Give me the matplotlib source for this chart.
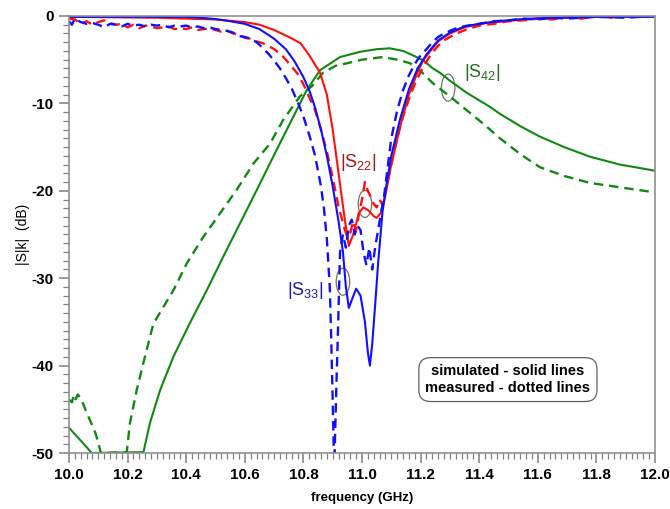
import numpy as np
import matplotlib
matplotlib.use("Agg")
import matplotlib.pyplot as plt
from matplotlib.patches import Ellipse
from matplotlib.ticker import MultipleLocator, FormatStrFormatter

plt.rcParams['font.family'] = ['Liberation Sans', 'DejaVu Sans']
plt.rcParams['mathtext.default'] = 'regular'
plt.rcParams['axes.unicode_minus'] = False

# |S22| simulated / measured
s22_sim_f = [10.0, 10.3, 10.5, 10.6, 10.65, 10.7, 10.75, 10.79, 10.82, 10.857, 10.88, 10.9,
             10.92, 10.94, 10.955, 10.97, 10.99, 11.005, 11.02, 11.04, 11.05, 11.065, 11.08,
             11.1, 11.13, 11.16, 11.19, 11.21, 11.26, 11.3, 11.35, 11.4, 11.46, 11.55, 11.65,
             11.8, 12.0]
s22_sim_db = [-0.1, -0.2, -0.4, -0.7, -1.0, -1.6, -2.4, -3.1, -4.5, -6.5, -9.0, -13.0,
              -18.0, -23.0, -26.3, -25.0, -22.5, -21.9, -22.2, -22.9, -23.1, -22.5, -20.5,
              -17.0, -12.7, -9.0, -6.4, -5.0, -2.9, -2.0, -1.3, -0.9, -0.7, -0.4, -0.25,
              -0.1, 0.0]

s22_meas_f = [10.0, 10.02, 10.04, 10.06, 10.08, 10.1, 10.12, 10.14, 10.16, 10.18, 10.2, 10.22,
              10.24, 10.26, 10.28, 10.3, 10.32, 10.34, 10.36, 10.38, 10.4, 10.42, 10.44, 10.46,
              10.48, 10.5, 10.52, 10.54, 10.56, 10.58, 10.6, 10.62, 10.64, 10.66, 10.68, 10.7,
              10.72, 10.74, 10.76, 10.78, 10.8, 10.82, 10.84, 10.86, 10.88, 10.9, 10.92, 10.94,
              10.95, 10.96, 10.97, 10.98, 10.99, 11.0, 11.01, 11.02, 11.03, 11.04, 11.05, 11.06,
              11.07, 11.08, 11.1, 11.12, 11.14, 11.16, 11.18, 11.2, 11.22, 11.24, 11.26, 11.28,
              11.3, 11.33, 11.36, 11.4, 11.45, 11.5, 11.55, 11.6, 11.65, 11.7, 11.75, 11.8,
              11.85, 11.9, 11.95, 12.0]
s22_meas_db = [-0.3, -0.4, -0.9, -0.6, -1.0, -0.7, -0.5, -0.8, -1.0, -0.9, -1.3, -1.0,
               -1.4, -1.1, -1.2, -1.4, -1.3, -1.2, -1.5, -1.4, -1.5, -1.3, -1.6, -1.5,
               -1.4, -1.6, -1.8, -1.7, -2.0, -2.1, -2.5, -2.6, -2.9, -3.1, -3.4, -3.8,
               -4.3, -5.0, -5.8, -6.6, -7.8, -9.3, -10.8, -13.0, -15.5, -18.5, -21.8, -24.3,
               -25.3, -24.8, -23.5, -24.5, -22.5, -21.0, -19.0, -20.0, -20.7, -21.5, -21.9, -21.0,
               -21.6, -20.0, -17.0, -14.0, -11.5, -9.5, -7.8, -6.4, -5.2, -4.2, -3.4, -2.8,
               -2.4, -1.9, -1.5, -1.1, -0.9, -0.6, -0.5, -0.3, -0.4, -0.1, -0.3, 0.0,
               -0.2, 0.1, -0.1, 0.3]

# |S33| simulated / measured
s33_sim_f = [10.0, 10.2, 10.4, 10.45, 10.5, 10.55, 10.6, 10.65, 10.7, 10.74, 10.77, 10.8,
             10.82, 10.84, 10.86, 10.88, 10.9, 10.92, 10.935, 10.945, 10.955, 10.965, 10.98,
             10.995, 11.01, 11.02, 11.027, 11.035, 11.045, 11.055, 11.07, 11.085, 11.1, 11.13,
             11.16, 11.19, 11.22, 11.26, 11.3, 11.35, 11.4, 11.46, 11.55, 11.65, 11.8, 12.0]
s33_sim_db = [-0.1, -0.1, -0.1, -0.2, -0.35, -0.6, -0.9, -1.5, -2.6, -3.8, -5.2, -7.0,
              -8.5, -10.5, -13.0, -16.0, -19.5, -23.5, -27.0, -31.0, -33.4, -32.5, -31.2,
              -32.0, -35.0, -38.5, -40.0, -37.5, -33.0, -28.3, -22.4, -19.0, -16.0, -11.8,
              -8.4, -6.0, -4.4, -2.8, -1.9, -1.2, -0.9, -0.6, -0.35, -0.2, -0.1, -0.1]

s33_meas_f = [10.0, 10.01, 10.02, 10.04, 10.06, 10.08, 10.1, 10.12, 10.14, 10.16, 10.18, 10.2,
              10.22, 10.24, 10.26, 10.28, 10.3, 10.32, 10.34, 10.36, 10.38, 10.4, 10.42, 10.44,
              10.46, 10.48, 10.5, 10.52, 10.54, 10.56, 10.58, 10.6, 10.62, 10.64, 10.66, 10.68,
              10.7, 10.72, 10.74, 10.76, 10.78, 10.8, 10.82, 10.84, 10.86, 10.87, 10.88, 10.89,
              10.895, 10.9, 10.905, 10.912, 10.918, 10.925, 10.935, 10.945, 10.955, 10.965, 10.975,
              10.985, 10.995, 11.005, 11.015, 11.025, 11.035, 11.045, 11.055, 11.065, 11.075,
              11.085, 11.1, 11.12, 11.14, 11.16, 11.18, 11.2, 11.22, 11.24, 11.26, 11.28, 11.3,
              11.33, 11.36, 11.4, 11.45, 11.5, 11.55, 11.6, 11.65, 11.7, 11.8, 11.9, 12.0]
s33_meas_db = [-0.6, -1.0, -0.3, -0.7, -0.9, -0.8, -1.0, -1.3, -0.9, -1.0, -1.2, -0.9,
               -1.1, -1.0, -1.2, -1.0, -1.1, -1.0, -1.3, -1.1, -1.2, -1.1, -1.3, -1.2,
               -1.4, -1.3, -1.5, -1.6, -1.7, -1.9, -2.3, -2.4, -2.6, -3.0, -3.6, -4.3,
               -5.1, -6.0, -7.1, -8.3, -9.8, -11.5, -13.6, -16.0, -19.5, -22.0, -25.5, -31.0,
               -37.0, -44.0, -52.0, -43.0, -36.0, -27.0, -25.0, -26.5, -24.0, -23.3, -25.0,
               -24.0, -24.5, -27.0, -28.5, -26.5, -29.0, -26.4, -24.5, -22.5, -20.7,
               -18.0, -14.0, -10.8, -8.5, -6.8, -5.5, -4.5, -3.8, -3.0, -2.4, -2.0, -1.7,
               -1.3, -1.1, -0.9, -0.6, -0.5, -0.3, -0.4, -0.2, -0.3, -0.1, -0.2, 0.0]

# |S42| simulated / measured
s42_sim_f = [10.0, 10.078, 10.254, 10.276, 10.311, 10.356, 10.413, 10.47, 10.527, 10.584,
             10.641, 10.697, 10.754, 10.811, 10.857, 10.925, 10.993, 11.05, 11.095, 11.14,
             11.174, 11.21, 11.242, 11.266, 11.3, 11.358, 11.437, 11.471, 11.54, 11.607, 11.69,
             11.778, 11.88, 12.0]
s42_sim_db = [-47.1, -50.0, -49.9, -46.6, -42.8, -39.0, -35.1, -31.4, -27.5, -23.7,
              -19.9, -16.1, -12.3, -8.5, -6.2, -4.7, -4.1, -3.8, -3.7, -4.0,
              -4.5, -5.1, -6.0, -6.5, -7.4, -8.8, -10.4, -11.2, -12.6, -13.8, -15.0,
              -16.1, -17.0, -17.7]

s42_meas_f = [10.0, 10.01, 10.015, 10.02, 10.03, 10.04, 10.05, 10.06, 10.075, 10.09, 10.1,
              10.106, 10.11, 10.197, 10.208, 10.231, 10.259, 10.288, 10.322, 10.356, 10.402,
              10.458, 10.515, 10.572, 10.629, 10.686, 10.731, 10.788, 10.83, 10.867, 10.91,
              10.95, 11.0, 11.07, 11.12, 11.164, 11.2, 11.242, 11.3, 11.358, 11.42, 11.471,
              11.54, 11.607, 11.69, 11.778, 11.88, 11.983, 12.0]
s42_meas_db = [-43.9, -44.2, -43.5, -44.0, -43.3, -43.8, -44.5, -45.4, -46.5, -47.7, -48.8,
               -49.7, -50.0, -49.9, -46.6, -42.8, -39.0, -35.2, -33.3, -31.4, -28.3,
               -25.3, -22.6, -19.9, -16.9, -14.6, -11.9, -9.2, -8.0, -6.5, -5.7,
               -5.4, -5.0, -4.7, -5.0, -5.4, -6.3, -7.7, -9.2, -10.8, -12.5, -14.0,
               -15.8, -17.3, -18.3, -19.1, -19.6, -20.1, -20.2]

red = '#ff1010'
blue = '#1010ff'
green = '#118811'
dash = (0, (4, 2.5))

fig = plt.figure(figsize=(6.7, 5.09), dpi=100)
ax = fig.add_axes([0.103, 0.110, 0.8746, 0.8586])

ax.plot(s42_meas_f, s42_meas_db, color=green, lw=1.7, ls=dash)
ax.plot(s42_sim_f, s42_sim_db, color=green, lw=1.5)
ax.plot(s22_meas_f, s22_meas_db, color=red, lw=1.7, ls=dash)
ax.plot(s22_sim_f, s22_sim_db, color=red, lw=1.5)
ax.plot(s33_meas_f, s33_meas_db, color=blue, lw=1.7, ls=dash)
ax.plot(s33_sim_f, s33_sim_db, color=blue, lw=1.5)

ax.set_xlim(10.0, 12.0)
ax.set_ylim(-50, 0)
ax.xaxis.set_major_locator(MultipleLocator(0.2))
ax.xaxis.set_minor_locator(MultipleLocator(0.02))
ax.yaxis.set_major_locator(MultipleLocator(10))
ax.yaxis.set_minor_locator(MultipleLocator(1))
ax.xaxis.set_major_formatter(FormatStrFormatter('%.1f'))
ax.yaxis.set_major_formatter(FormatStrFormatter('%d'))

for sp in ax.spines.values():
    sp.set_color('#909090')
    sp.set_linewidth(1.2)
ax.tick_params(which='major', direction='out', length=7, width=1.1, color='#808080',
               labelsize=11, pad=4)
ax.tick_params(which='minor', direction='out', length=4, width=0.9, color='#808080')
for lbl in ax.get_xticklabels() + ax.get_yticklabels():
    lbl.set_fontweight('bold')

ax.set_xlabel('frequency (GHz)', fontsize=9.5, fontweight='bold', labelpad=7)
ax.set_ylabel('|S|k|  (dB)', fontsize=10, labelpad=1)

# labels and circles
ax.text(11.41, -6.5, r'|S$_{42}$|', color='#1f6e1f', fontsize=13, ha='center', va='center')
ax.text(10.986, -16.8, r'|S$_{22}$|', color='#a81818', fontsize=13, ha='center', va='center')
ax.text(10.805, -31.4, r'|S$_{33}$|', color='#1c1ca8', fontsize=13, ha='center', va='center')

ellipses = [(11.294, -8.2), (11.01, -21.5), (10.935, -30.4)]
for ef, edb in ellipses:
    ax.add_patch(Ellipse((ef, edb), 0.046, 3.1, fill=False, ec='#707070', lw=0.9))

ax.text(11.498, -41.6, 'simulated - solid lines\nmeasured - dotted lines', fontsize=10.5,
        fontweight='bold', ha='center', va='center', linespacing=1.25,
        bbox=dict(boxstyle='round,pad=0.45,rounding_size=0.8', fc='white', ec='#606060', lw=0.9))

fig.savefig('out.png', dpi=100)
